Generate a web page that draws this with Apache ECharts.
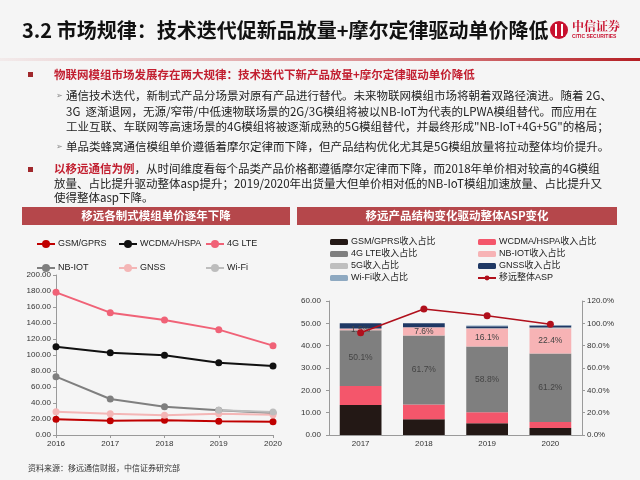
<!DOCTYPE html>
<html>
<head>
<meta charset="utf-8">
<script src="https://cdn.jsdelivr.net/npm/echarts@6/dist/echarts.min.js"></script>
<style>html,body{margin:0;padding:0;background:#f5f5f5}#c{width:640px;height:480px}</style>
</head>
<body>
<div id="c"></div>
<script>
// ---- Left chart: unit price by module type ----
const yearsPrice = ['2016', '2017', '2018', '2019', '2020'];
const gsmPrice   = [19.6, 17.9, 18.3, 17.1, 16.7];
const wcdmaPrice = [110.4, 102.9, 99.6, 90.4, 86.3];
const lte4gPrice = [178.3, 152.9, 143.8, 131.7, 111.7];
const nbiotPrice = [72.9, 45.0, 35.4, 30.8, 27.5];
const gnssPrice  = [29.2, 26.7, 24.6, 26.7, 25.4];
const wifiPrice  = [null, null, null, 31.0, 28.8];
const priceNames = ['GSM/GPRS', 'WCDMA/HSPA', '4G LTE', 'NB-IOT', 'GNSS', 'Wi-Fi'];
const priceTicks = [0, 200, 20];

// ---- Right chart: revenue mix (%) and overall ASP ----
const yearsMix = ['2017', '2018', '2019', '2020'];
const gsmShare   = [26.8, 14.0, 10.5, 6.2];
const wcdmaShare = [17.0, 13.3, 9.9, 5.5];
const lte4gShare = [50.1, 61.7, 58.8, 61.2];
const nbiotShare = [1.5, 7.6, 16.1, 22.4];
const g5Share    = [0, 0, 0.3, 0.9];
const gnssShare  = [4.6, 3.4, 1.8, 1.8];
const wifiShare  = [0, 0, 0.6, 0.4];
const aspValues  = [45.8, 56.4, 53.4, 49.6];
const mixNames = ['GSM/GPRS收入占比', 'WCDMA/HSPA收入占比', '4G LTE收入占比', 'NB-IOT收入占比',
                  '5G收入占比', 'GNSS收入占比', 'Wi-Fi收入占比', '移远整体ASP'];
const aspTicks = [0, 60, 10];
const pctTicks = [0, 120, 20];

// ---- Texts ----
const titleText = '3.2 市场规律：技术迭代促新品放量+摩尔定律驱动单价降低';
const bullet1 = '物联网模组市场发展存在两大规律：技术迭代下新产品放量+摩尔定律驱动单价降低';
const sub1Lines = [
  '通信技术迭代，新制式产品分场景对原有产品进行替代。未来物联网模组市场将朝着双路径演进。随着 2G、',
  '3G  逐渐退网，无源/窄带/中低速物联场景的2G/3G模组将被以NB-IoT为代表的LPWA模组替代。而应用在',
  '工业互联、车联网等高速场景的4G模组将被逐渐成熟的5G模组替代，并最终形成"NB-IoT+4G+5G"的格局；'
];
const sub2Line = '单品类蜂窝通信模组单价遵循着摩尔定律而下降，但产品结构优化尤其是5G模组放量将拉动整体均价提升。';
const bullet2Lead = '以移远通信为例';
const bullet2Lines = [
  '，从时间维度看每个品类产品价格都遵循摩尔定律而下降，而2018年单价相对较高的4G模组',
  '放量、占比提升驱动整体asp提升；2019/2020年出货量大但单价相对低的NB-IoT模组加速放量、占比提升又',
  '使得整体asp下降。'
];
const leftHeader = '移远各制式模组单价逐年下降';
const rightHeader = '移远产品结构变化驱动整体ASP变化';
const sourceText = '资料来源：移远通信财报，中信证券研究部';

const FONT = "'Liberation Sans','Noto Sans CJK SC',sans-serif";
const CJK = "'Noto Sans CJK SC','Liberation Sans',sans-serif";
const RED = '#c21f30';

const priceColors = ['#c00000', '#111111', '#f06277', '#7f7f7f', '#f4b6b6', '#bdbdbd'];
const priceData = [gsmPrice, wcdmaPrice, lte4gPrice, nbiotPrice, gnssPrice, wifiPrice];
const mixColors = ['#231815', '#f4566b', '#7f7f7f', '#f7b3b5', '#bfbfbf', '#1f3864', '#8ea9c1'];
const mixData = [gsmShare, wcdmaShare, lte4gShare, nbiotShare, g5Share, gnssShare, wifiShare];

const series = [];
priceNames.forEach((n, i) => {
  series.push({
    name: n, type: 'line', xAxisIndex: 0, yAxisIndex: 0, data: priceData[i],
    symbol: 'circle', symbolSize: 7, connectNulls: false,
    lineStyle: { color: priceColors[i], width: 2 },
    itemStyle: { color: priceColors[i] }
  });
});
mixNames.slice(0, 7).forEach((n, i) => {
  const s = {
    name: n, type: 'bar', stack: 'mix', xAxisIndex: 1, yAxisIndex: 2, data: mixData[i],
    barCategoryGap: '34%', itemStyle: { color: mixColors[i] }
  };
  if (i === 2 || i === 3) {
    s.label = { show: true, position: 'inside', color: '#444', fontSize: 8.5, fontFamily: FONT,
      formatter: p => p.value.toFixed(1) + '%' };
  }
  series.push(s);
});
series.push({
  name: mixNames[7], type: 'line', xAxisIndex: 1, yAxisIndex: 1, data: aspValues,
  symbol: 'circle', symbolSize: 7, z: 5,
  lineStyle: { color: '#b0101c', width: 1.6 }, itemStyle: { color: '#b0101c' }
});

const axisCommon = {
  axisLine: { show: true, lineStyle: { color: '#9a9a9a' } },
  axisTick: { show: true, length: 3, lineStyle: { color: '#9a9a9a' } },
  splitLine: { show: false },
  axisLabel: { color: '#333', fontSize: 8, fontFamily: FONT }
};

function legendCol(left, top, data, gap, ih) {
  return {
    left: left, top: top, orient: 'vertical', data: data, itemGap: gap,
    itemWidth: 18, itemHeight: ih, padding: 0,
    textStyle: { fontSize: 9, color: '#222', fontFamily: FONT, lineHeight: 10, padding: [0, 0, 0, -2] }
  };
}

const graphic = [
  // title
  { type: 'text', x: 22, y: 30, style: { text: titleText, fontSize: 20, fontWeight: 'bold',
      fontFamily: CJK, fill: '#111', verticalAlign: 'middle' } },
  // logo
  { type: 'circle', shape: { cx: 559, cy: 30, r: 9 }, style: { fill: '#c8102e' } },
  { type: 'rect', shape: { x: 555, y: 24, width: 2, height: 12 }, style: { fill: '#fff' } },
  { type: 'rect', shape: { x: 561, y: 24, width: 2, height: 12 }, style: { fill: '#fff' } },
  { type: 'text', x: 572, y: 26, style: { text: '中信证券', fontSize: 12, fontWeight: 'bold',
      fontFamily: "'Noto Serif CJK SC','Noto Sans CJK SC',serif", fill: '#c8102e', verticalAlign: 'middle' } },
  { type: 'text', x: 572, y: 37, style: { text: 'CITIC SECURITIES', fontSize: 5, fontWeight: 'bold',
      fontFamily: FONT, fill: '#c8102e', verticalAlign: 'middle' } },
  // red divider
  { type: 'rect', shape: { x: 0, y: 58, width: 640, height: 3 },
    style: { fill: { type: 'linear', x: 0, y: 0, x2: 1, y2: 0,
      colorStops: [{ offset: 0, color: 'rgba(192,40,45,0.05)' }, { offset: 0.6, color: 'rgba(192,40,45,0.5)' },
                   { offset: 1, color: 'rgba(180,30,35,1)' }] } } },
  // bullets
  { type: 'rect', shape: { x: 28, y: 72, width: 5, height: 5 }, style: { fill: '#a0282c' } },
  { type: 'text', x: 54, y: 75, style: { text: bullet1, fontSize: 11.5, fontWeight: 'bold',
      fontFamily: CJK, fill: RED, verticalAlign: 'middle' } },
  { type: 'text', x: 56, y: 96, style: { text: '➢', fontSize: 8, fontFamily: "'DejaVu Sans'", fill: '#888', verticalAlign: 'middle' } },
  { type: 'text', x: 56, y: 147, style: { text: '➢', fontSize: 8, fontFamily: "'DejaVu Sans'", fill: '#888', verticalAlign: 'middle' } },
  { type: 'rect', shape: { x: 28, y: 167, width: 5, height: 5 }, style: { fill: '#a0282c' } },
  { type: 'text', x: 66, y: 147, style: { text: sub2Line, fontSize: 11.5, fontFamily: CJK, fill: '#222', verticalAlign: 'middle' } },
  { type: 'text', x: 54, y: 169, style: { text: '{r|' + bullet2Lead + '}' + bullet2Lines[0], fontSize: 11.5,
      fontFamily: CJK, fill: '#222', verticalAlign: 'middle',
      rich: { r: { fill: RED, fontWeight: 'bold', fontSize: 11.5, fontFamily: CJK } } } },
  { type: 'text', x: 54, y: 184, style: { text: bullet2Lines[1], fontSize: 11.5, fontFamily: CJK, fill: '#222', verticalAlign: 'middle' } },
  { type: 'text', x: 54, y: 198, style: { text: bullet2Lines[2], fontSize: 11.5, fontFamily: CJK, fill: '#222', verticalAlign: 'middle' } },
  // section headers
  { type: 'rect', shape: { x: 22, y: 207, width: 268, height: 18 }, style: { fill: '#b5474b' } },
  { type: 'rect', shape: { x: 297, y: 207, width: 320, height: 18 }, style: { fill: '#b5474b' } },
  { type: 'text', x: 156, y: 216, style: { text: leftHeader, fontSize: 11.5, fontWeight: 'bold', fontFamily: CJK,
      fill: '#fff', align: 'center', verticalAlign: 'middle' } },
  { type: 'text', x: 457, y: 216, style: { text: rightHeader, fontSize: 11.5, fontWeight: 'bold', fontFamily: CJK,
      fill: '#fff', align: 'center', verticalAlign: 'middle' } },
  // source
  { type: 'text', x: 28, y: 468, style: { text: sourceText, fontSize: 8, fontFamily: CJK, fill: '#333', verticalAlign: 'middle' } }
];
sub1Lines.forEach((t, i) => {
  graphic.push({ type: 'text', x: 66, y: 96 + i * 15.5, style: { text: t, fontSize: 11.5, fontFamily: CJK,
    fill: '#222', verticalAlign: 'middle' } });
});

const option = {
  backgroundColor: '#f5f5f5',
  animation: false,
  textStyle: { fontFamily: FONT },
  grid: [
    { left: 56, right: 367, top: 275, bottom: 45 },
    { left: 329, right: 58, top: 301, bottom: 45 }
  ],
  xAxis: [
    Object.assign({}, axisCommon, { gridIndex: 0, type: 'category', data: yearsPrice, boundaryGap: false,
      axisLabel: { color: '#333', fontSize: 8, fontFamily: FONT, margin: 5 } }),
    Object.assign({}, axisCommon, { gridIndex: 1, type: 'category', data: yearsMix, boundaryGap: true,
      axisTick: { show: false }, axisLabel: { color: '#333', fontSize: 8, fontFamily: FONT, margin: 5 } })
  ],
  yAxis: [
    Object.assign({}, axisCommon, { gridIndex: 0, type: 'value', min: priceTicks[0], max: priceTicks[1], interval: priceTicks[2],
      axisLabel: { color: '#333', fontSize: 8, fontFamily: FONT, margin: 5, formatter: v => v.toFixed(2) } }),
    Object.assign({}, axisCommon, { gridIndex: 1, type: 'value', min: aspTicks[0], max: aspTicks[1], interval: aspTicks[2],
      axisLabel: { color: '#333', fontSize: 8, fontFamily: FONT, margin: 8, formatter: v => v.toFixed(2) } }),
    Object.assign({}, axisCommon, { gridIndex: 1, type: 'value', position: 'right', min: pctTicks[0], max: pctTicks[1], interval: pctTicks[2],
      axisLabel: { color: '#333', fontSize: 8, fontFamily: FONT, margin: 5, formatter: v => v.toFixed(1) + '%' } })
  ],
  legend: [
    legendCol(36, 239, [priceNames[0], priceNames[3]], 14, 10),
    legendCol(118, 239, [priceNames[1], priceNames[4]], 14, 10),
    legendCol(205, 239, [priceNames[2], priceNames[5]], 14, 10),
    legendCol(330, 237, [mixNames[0], mixNames[2], mixNames[4], mixNames[6]], 2, 6),
    legendCol(477, 237, [mixNames[1], mixNames[3], mixNames[5], mixNames[7]], 2, 6)
  ],
  graphic: graphic,
  series: series
};

const chart = echarts.init(document.getElementById('c'), null, { renderer: 'canvas' });
chart.setOption(option);
</script>
</body>
</html>
